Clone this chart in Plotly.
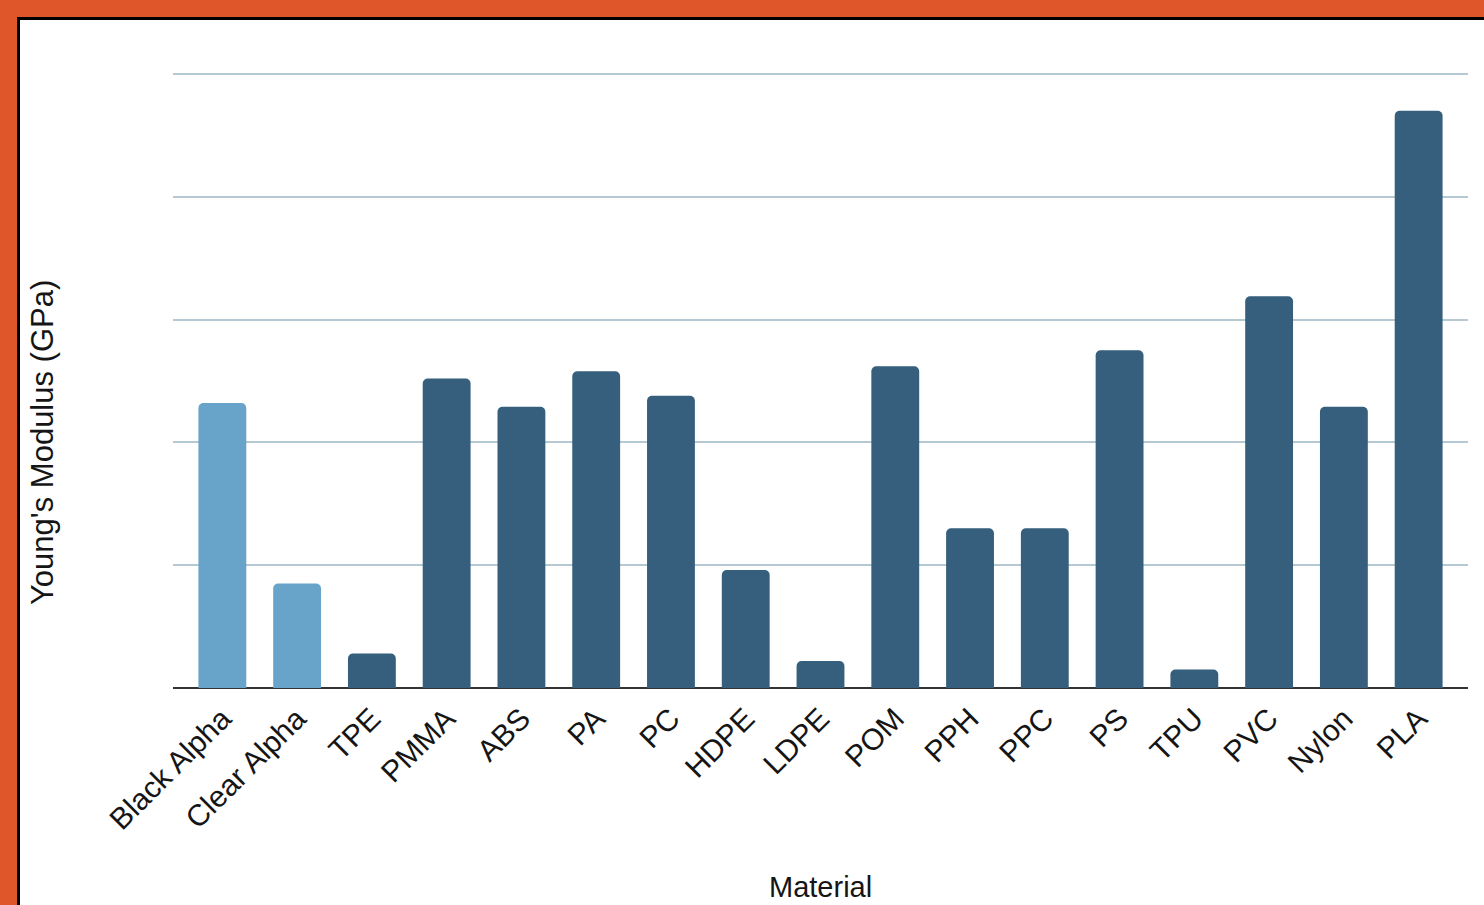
import plotly.graph_objects as go

materials = ["Black Alpha", "Clear Alpha", "TPE", "PMMA", "ABS", "PA", "PC", "HDPE", "LDPE",
             "POM", "PPH", "PPC", "PS", "TPU", "PVC", "Nylon", "PLA"]
modulus = [2.32, 0.85, 0.28, 2.52, 2.29, 2.58, 2.38, 0.96, 0.22,
           2.62, 1.30, 1.30, 2.75, 0.15, 3.19, 2.29, 4.70]
highlight = ["Black Alpha", "Clear Alpha"]

W, H = 1484, 905
L, R, T, B = 173, 16, 70, 217
pw, ph = W - L - R, H - T - B
y_top = 5 * ph / (H - B - 74)

def px(x):
    return (x - L) / pw

def py(y):
    return (H - B - y) / ph

colors = ["#68a4ca" if m in highlight else "#355f7d" for m in materials]

fig = go.Figure()
fig.add_trace(go.Bar(x=materials, y=modulus, marker=dict(color=colors, cornerradius=5, line=dict(width=0))))

font = "Liberation Sans, Arial, sans-serif"
fig.update_layout(
    width=W, height=H,
    margin=dict(l=L, r=R, t=T, b=B, pad=0),
    paper_bgcolor="#e0562b",
    plot_bgcolor="rgba(0,0,0,0)",
    bargap=0.36,
    showlegend=False,
    font=dict(family=font, color="#151515"),
    xaxis=dict(range=[-0.66, 16.66], tickangle=-45, tickfont=dict(size=30, color="#151515"),
               ticklabelstandoff=6,
               showgrid=False, showline=False, ticks="", fixedrange=True),
    yaxis=dict(range=[0, y_top], tick0=0, dtick=1, showticklabels=False, gridcolor="#b4c9d3", gridwidth=2,
               zeroline=True, zerolinecolor="#333333", zerolinewidth=2, ticks="", fixedrange=True),
    shapes=[
        dict(type="rect", xref="paper", yref="paper", x0=px(17), x1=px(W + 20), y0=py(17), y1=py(H + 20),
             fillcolor="#000000", line=dict(width=0), layer="below"),
        dict(type="rect", xref="paper", yref="paper", x0=px(20), x1=px(W + 20), y0=py(20), y1=py(H + 20),
             fillcolor="#ffffff", line=dict(width=0), layer="below"),
    ],
    annotations=[
        dict(text="Young's Modulus (GPa)", xref="paper", yref="paper", x=px(42), y=py(443),
             textangle=-90, showarrow=False, font=dict(size=31, color="#151515"),
             xanchor="center", yanchor="middle"),
        dict(text="Material", xref="paper", yref="paper", x=px(820), y=py(905),
             showarrow=False, font=dict(size=29, color="#151515"),
             xanchor="center", yanchor="bottom"),
    ],
)

fig.write_html("out.html")
